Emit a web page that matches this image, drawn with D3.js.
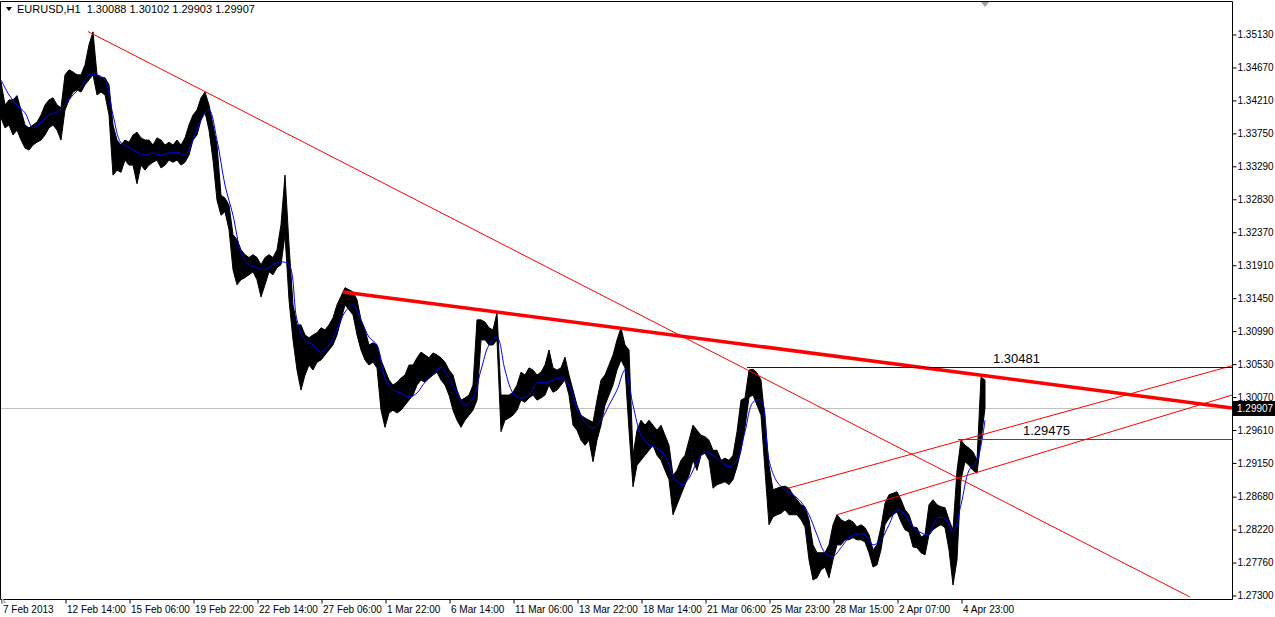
<!DOCTYPE html>
<html>
<head>
<meta charset="utf-8">
<script src="https://cdn.jsdelivr.net/npm/d3@7"></script>
<style>
  body { margin: 0; background: #fff; overflow: hidden; }
  text { font-family: "Liberation Sans", Arial, sans-serif; }
</style>
</head>
<body>
<svg id="chart" width="1275" height="617"></svg>
<script>
// EURUSD H1, one sample every 4 hourly bars (band high / low)
var barStep = 4;
var highs = [
  1.3446,1.3414,1.3421,1.3421,1.3427,1.3407,1.3386,1.3382,1.3386,1.3390,1.3400,1.3414,1.3421,1.3424,1.3414,1.3410,
  1.3456,1.3463,1.3460,1.3456,1.3456,1.3470,1.3498,1.3516,1.3456,1.3452,1.3452,1.3442,1.3386,1.3365,1.3358,1.3365,
  1.3362,1.3372,1.3376,1.3368,1.3365,1.3365,1.3358,1.3368,1.3365,1.3358,1.3362,1.3358,1.3365,1.3358,1.3368,1.3386,
  1.3400,1.3407,1.3424,1.3432,1.3414,1.3386,1.3358,1.3288,1.3284,1.3274,1.3233,1.3226,1.3212,1.3205,1.3201,1.3205,
  1.3201,1.3191,1.3201,1.3205,1.3201,1.3212,1.3247,1.3316,1.3219,1.3135,1.3107,1.3107,1.3093,1.3089,1.3093,1.3096,
  1.3103,1.3100,1.3107,1.3117,1.3135,1.3147,1.3159,1.3156,1.3153,1.3142,1.3114,1.3100,1.3079,1.3082,1.3079,1.3058,
  1.3044,1.3030,1.3023,1.3027,1.3033,1.3037,1.3051,1.3051,1.3061,1.3069,1.3065,1.3061,1.3068,1.3065,1.3061,1.3055,
  1.3044,1.3037,1.3016,1.3002,1.3005,1.3009,1.3023,1.3114,1.3114,1.3111,1.3103,1.3100,1.3124,1.3009,1.3009,1.3009,
  1.3013,1.3023,1.3041,1.3037,1.3047,1.3044,1.3037,1.3041,1.3051,1.3072,1.3047,1.3044,1.3047,1.3062,1.3037,1.3016,
  1.2995,1.2981,1.2977,1.2974,1.2971,1.3002,1.3030,1.3037,1.3051,1.3065,1.3086,1.3103,1.3079,1.3072,1.2925,1.2960,
  1.2974,1.2967,1.2974,1.2967,1.2960,1.2967,1.2953,1.2939,1.2897,1.2904,1.2918,1.2925,1.2946,1.2967,1.2960,1.2953,
  1.2951,1.2946,1.2932,1.2932,1.2918,1.2921,1.2918,1.2925,1.2958,1.3002,1.3005,1.3044,1.3045,1.3040,1.3030,1.2974,
  1.2911,1.2877,1.2879,1.2881,1.2882,1.2879,1.2870,1.2863,1.2856,1.2853,1.2835,1.2800,1.2789,1.2789,1.2789,1.2800,
  1.2828,1.2842,1.2835,1.2832,1.2835,1.2832,1.2825,1.2828,1.2824,1.2814,1.2793,1.2800,1.2825,1.2858,1.2870,1.2872,
  1.2874,1.2863,1.2849,1.2842,1.2825,1.2824,1.2811,1.2814,1.2856,1.2863,1.2856,1.2853,1.2852,1.2835,1.2821,1.2904,
  1.2946,1.2939,1.2935,1.2930,1.2918,1.3034,1.3030
];
var lows = [
  1.3396,1.3382,1.3386,1.3372,1.3379,1.3365,1.3354,1.3351,1.3358,1.3362,1.3365,1.3372,1.3382,1.3386,1.3379,1.3365,
  1.3407,1.3421,1.3432,1.3435,1.3432,1.3442,1.3449,1.3456,1.3428,1.3432,1.3428,1.3400,1.3316,1.3323,1.3320,1.3337,
  1.3330,1.3330,1.3304,1.3330,1.3323,1.3330,1.3334,1.3337,1.3326,1.3330,1.3337,1.3334,1.3337,1.3330,1.3334,1.3344,
  1.3365,1.3372,1.3393,1.3404,1.3379,1.3337,1.3281,1.3260,1.3265,1.3240,1.3184,1.3163,1.3170,1.3173,1.3177,1.3181,
  1.3170,1.3146,1.3163,1.3181,1.3177,1.3187,1.3191,1.3233,1.3142,1.3086,1.3044,1.3016,1.3037,1.3051,1.3044,1.3055,
  1.3058,1.3065,1.3072,1.3079,1.3093,1.3114,1.3135,1.3128,1.3121,1.3093,1.3072,1.3058,1.3051,1.3055,1.3047,1.2988,
  1.2964,1.2984,1.2988,1.2984,1.2988,1.2995,1.3002,1.3009,1.3023,1.3030,1.3027,1.3033,1.3037,1.3041,1.3030,1.3023,
  1.3009,1.2988,1.2974,1.2964,1.2974,1.2981,1.2988,1.3002,1.3086,1.3086,1.3079,1.3079,1.3086,1.2958,1.2974,1.2977,
  1.2981,1.2988,1.3002,1.2999,1.3005,1.3009,1.3002,1.3005,1.3009,1.3023,1.3013,1.3016,1.3023,1.3030,1.3009,1.2967,
  1.2960,1.2946,1.2939,1.2946,1.2916,1.2946,1.2967,1.2995,1.3009,1.3023,1.3044,1.3058,1.3047,1.2960,1.2881,1.2911,
  1.2918,1.2925,1.2932,1.2939,1.2925,1.2918,1.2904,1.2891,1.2842,1.2856,1.2870,1.2884,1.2897,1.2918,1.2904,1.2925,
  1.2928,1.2918,1.2879,1.2884,1.2886,1.2888,1.2884,1.2891,1.2909,1.2932,1.2964,1.3006,1.3009,1.2995,1.2981,1.2904,
  1.2828,1.2839,1.2842,1.2844,1.2849,1.2842,1.2842,1.2842,1.2835,1.2825,1.2779,1.2751,1.2754,1.2765,1.2769,1.2754,
  1.2779,1.2800,1.2800,1.2807,1.2807,1.2810,1.2807,1.2807,1.2804,1.2789,1.2769,1.2772,1.2793,1.2828,1.2837,1.2842,
  1.2846,1.2832,1.2821,1.2818,1.2797,1.2796,1.2789,1.2786,1.2814,1.2821,1.2825,1.2828,1.2824,1.2793,1.2744,1.2779,
  1.2891,1.2916,1.2911,1.2904,1.2900,1.2946,1.2991
];

// moving average, one sample every 8 bars
var maStep = 8;
var maValues = [
  1.3449,1.3428,1.3414,1.3403,1.3382,1.3390,1.3400,1.3404,1.3414,1.3428,1.3439,1.3456,1.3456,1.3449,1.3400,1.3361,
  1.3355,1.3348,1.3344,1.3347,1.3344,1.3347,1.3348,1.3344,1.3365,1.3393,1.3407,1.3365,1.3302,1.3260,1.3209,1.3191,
  1.3187,1.3184,1.3191,1.3195,1.3191,1.3114,1.3086,1.3079,1.3069,1.3079,1.3100,1.3125,1.3135,1.3114,1.3090,1.3079,
  1.3033,1.3016,1.3012,1.3006,1.3012,1.3027,1.3037,1.3048,1.3033,1.3012,1.2995,1.3005,1.3044,1.3079,1.3090,1.3044,
  1.3012,1.3005,1.3009,1.3026,1.3026,1.3030,1.3033,1.3023,1.2991,1.2971,1.2963,1.2974,1.2995,1.3016,1.3044,1.2995,
  1.2953,1.2939,1.2935,1.2925,1.2897,1.2884,1.2893,1.2916,1.2930,1.2925,1.2916,1.2909,1.2918,1.2958,1.2999,1.3002,
  1.2918,1.2888,1.2877,1.2870,1.2860,1.2842,1.2814,1.2789,1.2784,1.2796,1.2810,1.2815,1.2814,1.2800,1.2807,1.2828,
  1.2849,1.2842,1.2825,1.2817,1.2814,1.2837,1.2837,1.2818,1.2856,1.2904,1.2918,1.2974
];

var priceTicks = [1.35130,1.34670,1.34210,1.33750,1.33290,1.32830,1.32370,1.31910,1.31450,
                  1.30990,1.30530,1.30070,1.29610,1.29150,1.28680,1.28220,1.27760,1.27300];
var timeLabels = ["7 Feb 2013","12 Feb 14:00","15 Feb 06:00","19 Feb 22:00","22 Feb 14:00","27 Feb 06:00",
                  "1 Mar 22:00","6 Mar 14:00","11 Mar 06:00","13 Mar 22:00","18 Mar 14:00","21 Mar 06:00",
                  "25 Mar 23:00","28 Mar 15:00","2 Apr 07:00","4 Apr 23:00"];
var barsPerLabel = 64;

// trend lines: [bar, price] -> [bar, price]
var trendThin = [
  [[87, 1.35164], [1189, 1.27272]],
  [[787, 1.28790], [1231, 1.30500]],
  [[836, 1.28420], [1231, 1.30090]]
];
var trendThick = [[342, 1.31530], [1231, 1.29910]];
var levelHigh = {price: 1.30481, from: 746, labelBar: 992};
var levelLow = {price: 1.29475, from: 957, labelBar: 1022};
var lastPrice = 1.29907;
var title = "EURUSD,H1  1.30088 1.30102 1.29903 1.29907";

var svg = d3.select("#chart");
var plotL = 1, plotR = 1232, plotT = 1, plotB = 599;
var lastBar = 1231;

var x = d3.scaleLinear().domain([0, lastBar]).range([plotL, plotR]);
var y = d3.scaleLinear().domain([1.27300, 1.35130]).range([595, 34]);

var g = svg.append("g");
g.append("clipPath").attr("id", "clip")
  .append("rect").attr("x", plotL).attr("y", plotT).attr("width", plotR - plotL).attr("height", plotB - plotT);
var plot = g.append("g").attr("clip-path", "url(#clip)");

// current price line
plot.append("line")
  .attr("x1", plotL).attr("x2", plotR)
  .attr("y1", Math.round(y(lastPrice)) + 0.5).attr("y2", Math.round(y(lastPrice)) + 0.5)
  .attr("stroke", "#c0c0c0").attr("stroke-width", 1);

// price band
var band = d3.area()
  .x(function(d, i) { return x(i * barStep); })
  .y0(function(d, i) { return y(lows[i]); })
  .y1(function(d) { return y(d); });
plot.append("path").datum(highs)
  .attr("d", band)
  .attr("fill", "#000").attr("stroke", "#000").attr("stroke-width", 1);

// moving average
var maLine = d3.line()
  .x(function(d, i) { return x(i * maStep); })
  .y(function(d) { return y(d); })
  .curve(d3.curveCatmullRom);
plot.append("path").datum(maValues)
  .attr("d", maLine)
  .attr("fill", "none").attr("stroke", "#0000ff").attr("stroke-width", 1);

// objects
trendThin.forEach(function(t) {
  plot.append("line")
    .attr("x1", x(t[0][0])).attr("y1", y(t[0][1]))
    .attr("x2", x(t[1][0])).attr("y2", y(t[1][1]))
    .attr("stroke", "#ff0000").attr("stroke-width", 1);
});
plot.append("line")
  .attr("x1", x(trendThick[0][0])).attr("y1", y(trendThick[0][1]))
  .attr("x2", x(trendThick[1][0])).attr("y2", y(trendThick[1][1]))
  .attr("stroke", "#ff0000").attr("stroke-width", 3.5);

plot.append("line")
  .attr("x1", x(levelHigh.from)).attr("x2", plotR)
  .attr("y1", Math.round(y(levelHigh.price)) + 0.5).attr("y2", Math.round(y(levelHigh.price)) + 0.5)
  .attr("stroke", "#0000c0");
plot.append("line")
  .attr("x1", x(levelLow.from)).attr("x2", plotR)
  .attr("y1", Math.round(y(levelLow.price)) + 0.5).attr("y2", Math.round(y(levelLow.price)) + 0.5)
  .attr("stroke", "#ff0000");

[levelHigh, levelLow].forEach(function(l) {
  g.append("text")
    .attr("x", x(l.labelBar)).attr("y", y(l.price) - 4)
    .attr("font-size", 13).attr("fill", "#000")
    .text(d3.format(".5f")(l.price));
});

// frame
g.append("path")
  .attr("d", "M" + (plotL - 0.5) + "," + (plotB + 0.5) + "V" + (plotT + 0.5) + "H" + (plotR + 0.5) + "V" + (plotB + 0.5) + "H" + (plotL - 0.5))
  .attr("fill", "none").attr("stroke", "#000");

// axes
var yAxis = d3.axisRight(y).tickValues(priceTicks).tickSize(4).tickPadding(1)
  .tickFormat(d3.format(".5f"));
var ya = svg.append("g").attr("transform", "translate(" + (plotR + 0.5) + ",0.5)").call(yAxis);
ya.select(".domain").remove();
ya.selectAll("text").attr("font-size", 10).attr("font-family", "Liberation Sans, Arial, sans-serif").attr("fill", "#000");

var xAxis = d3.axisBottom(x)
  .tickValues(timeLabels.map(function(d, i) { return i * barsPerLabel; }))
  .tickFormat(function(d, i) { return timeLabels[i]; })
  .tickSize(4).tickPadding(2);
var xa = svg.append("g").attr("transform", "translate(0.5," + (plotB + 0.5) + ")").call(xAxis);
xa.select(".domain").remove();
xa.selectAll("text").attr("font-size", 10).attr("font-family", "Liberation Sans, Arial, sans-serif")
  .attr("text-anchor", "start").attr("x", 1).attr("fill", "#000");

// last price tag
var ty = y(lastPrice);
svg.append("rect").attr("x", plotR + 1).attr("y", Math.round(ty) - 7).attr("width", 1275 - plotR - 1).attr("height", 15)
  .attr("fill", "#000");
svg.append("text").attr("x", plotR + 5).attr("y", ty + 4)
  .attr("font-size", 10).attr("fill", "#fff").text(d3.format(".5f")(lastPrice));

// title
svg.append("path").attr("d", "M6,7H12L9,11Z").attr("fill", "#000");
svg.append("text").attr("x", 17).attr("y", 13).attr("font-size", 11).attr("fill", "#000")
  .attr("xml:space", "preserve").style("white-space", "pre").text(title);

// shift marker
var sx = x(984);
svg.append("path").attr("d", "M" + (sx - 4) + ",2H" + (sx + 4) + "L" + sx + ",7Z").attr("fill", "#a0a0a0");
svg.append("path").attr("d", "M2,598L2,603L7,603Z").attr("fill", "#c0c0c0");
</script>
</body>
</html>
